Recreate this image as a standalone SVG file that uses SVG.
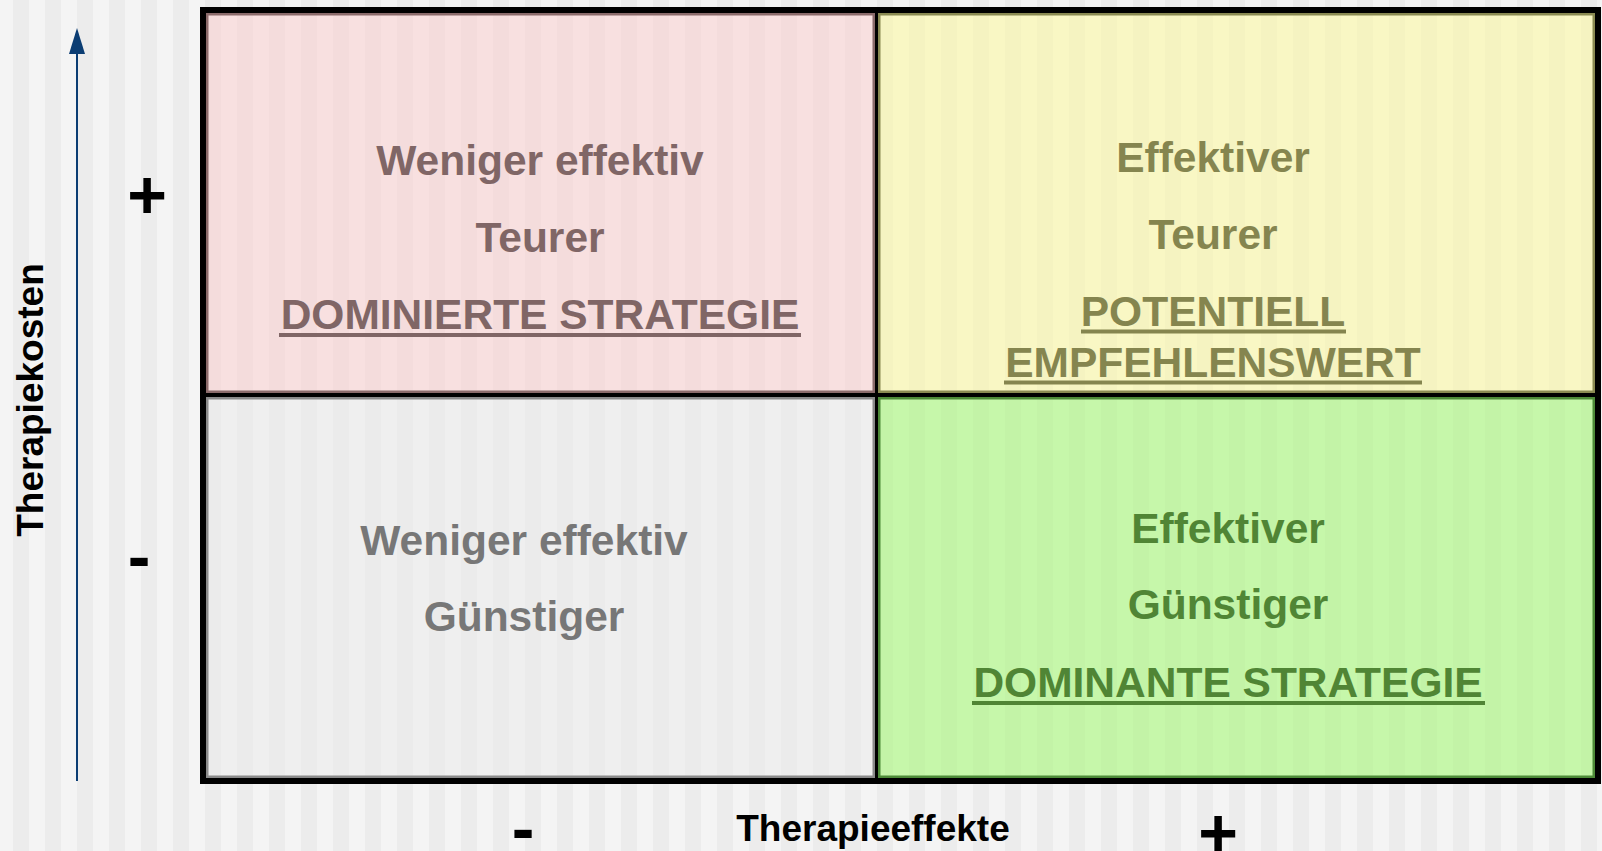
<svg xmlns="http://www.w3.org/2000/svg" width="1602" height="851" viewBox="0 0 1602 851">
  <defs>
    <pattern id="stripes" patternUnits="userSpaceOnUse" x="13" y="0" width="32" height="851">
      <rect x="0" y="0" width="16" height="851" fill="#000" fill-opacity="0.03"/>
    </pattern>
    <pattern id="stripesSoft" patternUnits="userSpaceOnUse" x="13" y="0" width="32" height="851">
      <rect x="0" y="0" width="16" height="851" fill="#000" fill-opacity="0.015"/>
    </pattern>
    <marker id="axisHead" markerUnits="userSpaceOnUse" markerWidth="26" markerHeight="16" viewBox="0 0 26 16" refX="0" refY="8" orient="auto">
      <path d="M0,0 L26,8 L0,16 z" fill="#0b3d73"/>
    </marker>
  </defs>
  <style>
    text { font-family: "Liberation Sans", Arial, sans-serif; font-weight: bold; }
    .q { font-size: 42.5px; text-anchor: middle; }
    .axis { font-size: 37px; fill: #000; text-anchor: middle; }
    .sign { font-size: 68px; fill: #000; text-anchor: middle; }
    .qborder { fill: none; stroke-width: 2.5; }
    .divider { stroke: #000; fill: none; }
  </style>

  <!-- page background with fine vertical striping -->
  <rect x="0" y="0" width="1602" height="851" fill="#f4f4f4"/>
  <rect x="0" y="0" width="1602" height="851" fill="url(#stripes)"/>

  <!-- quadrant: less effective, more expensive -->
  <g id="q-dominated">
    <rect x="206" y="13" width="669" height="380" fill="#f8e0e0"/>
    <rect x="206" y="13" width="669" height="380" fill="url(#stripesSoft)"/>
    <rect class="qborder" x="207.25" y="14.25" width="666.5" height="377.5" stroke="#8b6b6b"/>
    <text class="q" x="540" y="175" fill="#806666">Weniger effektiv</text>
    <text class="q" x="540" y="252" fill="#806666">Teurer</text>
    <text class="q" x="540" y="329" fill="#806666">DOMINIERTE STRATEGIE</text>
    <rect x="279" y="333" width="522" height="4" fill="#806666"/>
  </g>

  <!-- quadrant: more effective, more expensive -->
  <g id="q-potential">
    <rect x="878" y="13" width="717" height="380" fill="#f9f7c4"/>
    <rect x="878" y="13" width="717" height="380" fill="url(#stripesSoft)"/>
    <rect class="qborder" x="879.25" y="14.25" width="714.5" height="377.5" stroke="#8a8a52"/>
    <text class="q" x="1213" y="172" fill="#85854f">Effektiver</text>
    <text class="q" x="1213" y="249" fill="#85854f">Teurer</text>
    <text class="q" x="1213" y="326" fill="#85854f">POTENTIELL</text>
    <rect x="1081" y="329.5" width="265" height="4" fill="#85854f"/>
    <text class="q" x="1213" y="377" fill="#85854f">EMPFEHLENSWERT</text>
    <rect x="1004" y="380.5" width="418" height="4" fill="#85854f"/>
  </g>

  <!-- quadrant: less effective, cheaper -->
  <g id="q-cheaper">
    <rect x="206" y="397" width="669" height="381" fill="#efefef"/>
    <rect x="206" y="397" width="669" height="381" fill="url(#stripesSoft)"/>
    <rect class="qborder" x="207.25" y="398.25" width="666.5" height="378.5" stroke="#8a8a8a"/>
    <text class="q" x="524" y="555" fill="#777777">Weniger effektiv</text>
    <text class="q" x="524" y="631" fill="#777777">Günstiger</text>
  </g>

  <!-- quadrant: more effective, cheaper -->
  <g id="q-dominant">
    <rect x="878" y="397" width="717" height="381" fill="#c6f7aa"/>
    <rect x="878" y="397" width="717" height="381" fill="url(#stripesSoft)"/>
    <rect class="qborder" x="879.25" y="398.25" width="714.5" height="378.5" stroke="#4d8a38"/>
    <text class="q" x="1228" y="543" fill="#508535">Effektiver</text>
    <text class="q" x="1228" y="619" fill="#508535">Günstiger</text>
    <text class="q" x="1228" y="697" fill="#508535">DOMINANTE STRATEGIE</text>
    <rect x="972" y="701" width="513" height="4" fill="#508535"/>
  </g>

  <!-- grid lines and frame -->
  <g id="frame">
    <line class="divider" x1="876.5" y1="13" x2="876.5" y2="778" stroke-width="3"/>
    <line class="divider" x1="206" y1="395" x2="1595" y2="395" stroke-width="4"/>
    <rect class="divider" x="203" y="10" width="1395" height="771" stroke-width="6"/>
  </g>

  <!-- cost axis -->
  <g id="connectors">
    <line x1="77" y1="781" x2="77" y2="54" stroke="#0b3d73" stroke-width="2" marker-end="url(#axisHead)"/>
  </g>

  <g id="axis-labels">
    <text class="axis" transform="translate(43,400) rotate(-90)">Therapiekosten</text>
    <text class="axis" x="873" y="841">Therapieeffekte</text>
    <text class="sign" x="147" y="218">+</text>
    <text class="sign" x="139" y="580">-</text>
    <text class="sign" x="523" y="852">-</text>
    <text class="sign" x="1218" y="856">+</text>
  </g>
</svg>
